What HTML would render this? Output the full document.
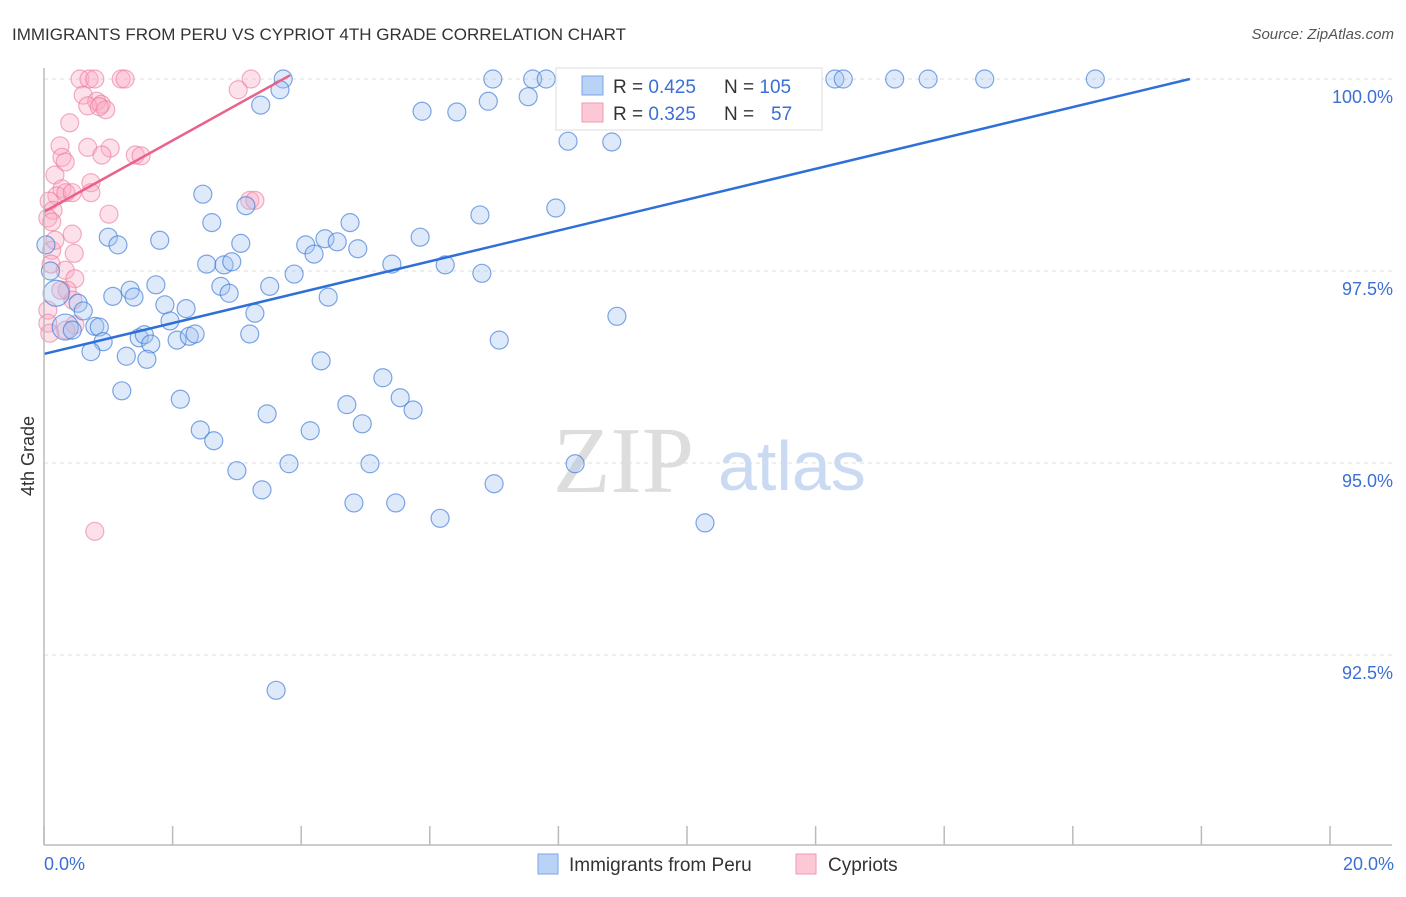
<!DOCTYPE html>
<html><head><meta charset="utf-8"><style>
body{margin:0;background:#fff;font-family:"Liberation Sans",sans-serif}
</style></head><body>
<svg width="1406" height="892" xmlns="http://www.w3.org/2000/svg" font-family="Liberation Sans, sans-serif">
<text x="12" y="40" font-size="17" fill="#333">IMMIGRANTS FROM PERU VS CYPRIOT 4TH GRADE CORRELATION CHART</text>
<text x="1394" y="39" font-size="15" fill="#555" text-anchor="end" font-style="italic">Source: ZipAtlas.com</text>
<g id="grid"></g>
<g><text x="553" y="492" font-size="94" fill="#ddd" font-family="Liberation Serif, serif">ZIP</text><text x="718" y="490" font-size="70" fill="#c9daf2">atlas</text></g>
<text x="34" y="456" font-size="18" fill="#333" text-anchor="middle" transform="rotate(-90 34 456)">4th Grade</text>
<g id="pts"></g>
<g id="lines"></g>
<line x1="44" y1="68" x2="44" y2="845" stroke="#bbb" stroke-width="1.5"/>
<line x1="44" y1="845" x2="1392" y2="845" stroke="#bbb" stroke-width="1.5"/>
<g id="xticks"></g>
<text x="44" y="870" font-size="18" fill="#3b6fd6">0.0%</text>
<text x="1394" y="870" font-size="18" fill="#3b6fd6" text-anchor="end">20.0%</text>
<g>
<rect x="556" y="68" width="266" height="62" fill="#fff" stroke="#ddd"/>
<rect x="582" y="76" width="21" height="19" fill="#b9d3f7" stroke="#7aa6e6"/>
<rect x="582" y="103" width="21" height="19" fill="#fcc8d6" stroke="#ef9ab3"/>
<text x="613" y="93" font-size="19" fill="#333">R = <tspan fill="#3b6fd6">0.425</tspan></text>
<text x="724" y="93" font-size="19" fill="#333">N = <tspan fill="#3b6fd6">105</tspan></text>
<text x="613" y="120" font-size="19" fill="#333">R = <tspan fill="#3b6fd6">0.325</tspan></text>
<text x="724" y="120" font-size="19" fill="#333">N = <tspan fill="#3b6fd6" x="771">57</tspan></text>
</g>
<g>
<rect x="538" y="854" width="20" height="20" fill="#b9d3f7" stroke="#7aa6e6"/>
<text x="569" y="871" font-size="19" fill="#333">Immigrants from Peru</text>
<rect x="796" y="854" width="20" height="20" fill="#fcc8d6" stroke="#ef9ab3"/>
<text x="828" y="871" font-size="19" fill="#333">Cypriots</text>
</g>
</svg>
<script>
const yTicks=[100,97.5,95,92.5];
const yTickLabels=["100.0%","97.5%","95.0%","92.5%"];
const xTickVals=[0,2,4,6,8,10,12,14,16,18,20];
const blueX=[3.72,6.98,7.60,7.81,9.55,10.92,12.30,12.43,13.23,13.75,14.63,16.35,3.67,3.37,5.88,6.42,6.91,7.53,8.15,8.83,2.47,3.14,2.61,4.76,6.78,7.96,1.00,1.80,1.15,3.06,4.07,4.37,4.20,4.56,4.88,5.85,2.53,2.80,2.92,3.89,5.41,6.24,6.81,0.19,1.07,1.34,1.40,1.74,2.75,2.88,3.51,4.42,0.53,0.61,1.88,2.21,3.28,8.91,1.96,0.33,0.79,0.86,0.44,1.48,1.56,1.66,2.07,2.26,2.35,3.20,0.92,0.73,1.28,1.60,7.08,4.31,5.27,1.21,2.12,4.71,5.54,5.74,3.47,4.95,2.43,2.64,4.14,3.00,3.81,5.07,8.26,3.39,7.00,4.82,5.47,6.16,10.28,3.61,0.03,0.10];
const blueY=[100,100,100,100,100,100,100,100,100,100,100,100,99.86,99.66,99.58,99.57,99.71,99.77,99.19,99.18,98.50,98.35,98.13,98.13,98.23,98.32,97.94,97.90,97.84,97.86,97.84,97.92,97.72,97.88,97.79,97.94,97.59,97.58,97.62,97.46,97.59,97.58,97.47,97.21,97.17,97.25,97.16,97.32,97.30,97.21,97.30,97.16,97.08,96.98,97.06,97.01,96.95,96.91,96.85,96.77,96.78,96.77,96.73,96.63,96.67,96.55,96.60,96.65,96.68,96.68,96.58,96.45,96.39,96.35,96.60,96.33,96.11,95.94,95.83,95.76,95.85,95.69,95.64,95.51,95.43,95.29,95.42,94.90,94.99,94.99,94.99,94.65,94.73,94.48,94.48,94.28,94.22,92.04,97.84,97.50];
const pinkX=[0.56,0.70,0.79,1.20,1.26,3.22,3.02,0.61,0.82,0.89,0.96,0.68,0.86,0.40,0.25,0.68,1.03,0.28,0.33,0.90,1.42,1.51,0.17,0.73,0.28,0.20,0.34,0.44,0.73,0.08,0.14,1.01,3.20,3.28,0.06,0.12,0.44,0.47,0.12,0.11,0.33,0.48,0.36,0.45,0.06,0.06,0.09,0.79,0.48,0.34,0.26,0.17];
const pinkY=[100,100,100,100,100,100,99.86,99.79,99.71,99.67,99.60,99.65,99.64,99.43,99.13,99.11,99.10,98.98,98.92,99.01,99.01,99.00,98.75,98.65,98.57,98.48,98.52,98.52,98.52,98.41,98.29,98.24,98.42,98.42,98.19,98.14,97.98,97.73,97.77,97.59,97.51,97.40,97.25,97.12,96.99,96.82,96.69,94.11,96.80,96.73,97.25,97.90];
const blueTrend=[[0,96.42],[17.82,100]];
const pinkTrend=[[0,98.27],[3.83,100.05]];
const NS="http://www.w3.org/2000/svg";
const sx=v=>44+v*64.3, sy=v=>79+(100-v)*76.8;
function mk(t,a,p){const e=document.createElementNS(NS,t);for(const k in a)e.setAttribute(k,a[k]);p.appendChild(e);return e;}
const grid=document.getElementById('grid');
yTicks.forEach((v,i)=>{
 const l=mk('line',{x1:44,x2:1392,y1:sy(v),y2:sy(v),stroke:'#ddd','stroke-dasharray':'4 4'},grid);
 
 
 const t=mk('text',{x:1393,y:sy(v)+24,'font-size':18,fill:'#3b6fd6','text-anchor':'end'},grid);
 t.textContent=yTickLabels[i];
 
 
});
const xt=document.getElementById('xticks');
xTickVals.forEach(v=>{
 const l=mk('line',{x1:sx(v),x2:sx(v),y1:826,y2:845,stroke:'#bbb','stroke-width':1.5},xt);
 
 
});
const pts=document.getElementById('pts');
pinkX.forEach((x,i)=>{
 const c=mk('circle',{cx:sx(x),cy:sy(pinkY[i]),r:9,fill:'rgba(248,170,195,0.35)',stroke:'rgba(236,120,155,0.6)','stroke-width':1.2},pts);
 
 
});
blueX.forEach((x,i)=>{
 const c=mk('circle',{cx:sx(x),cy:sy(blueY[i]),r:(i==43||i==59)?13:9,fill:'rgba(160,195,240,0.35)',stroke:'rgba(60,120,215,0.65)','stroke-width':1.2},pts);
 
 
});
const ln=document.getElementById('lines');
const b=mk('line',{x1:sx(blueTrend[0][0]),y1:sy(blueTrend[0][1]),x2:sx(blueTrend[1][0]),y2:sy(blueTrend[1][1]),stroke:'#2f6fd8','stroke-width':2.5},ln);


const p=mk('line',{x1:sx(pinkTrend[0][0]),y1:sy(pinkTrend[0][1]),x2:sx(pinkTrend[1][0]),y2:sy(pinkTrend[1][1]),stroke:'#e8628a','stroke-width':2.5},ln);


</script>
</body></html>
